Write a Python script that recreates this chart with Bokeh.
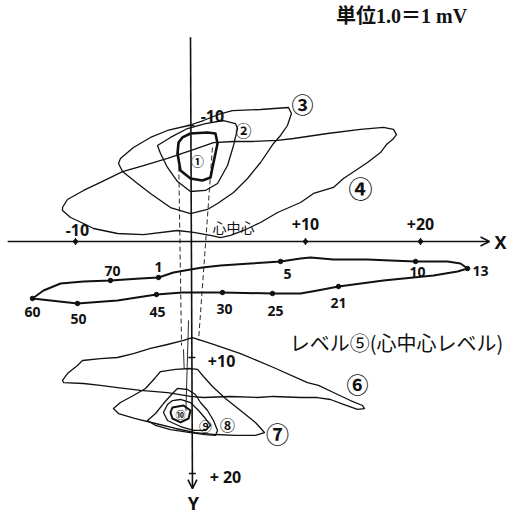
import numpy as np
from bokeh.plotting import figure
from bokeh.models import Range1d, Arrow, OpenHead, ColumnDataSource
from bokeh.core.properties import value
from bokeh.embed import file_html
from bokeh.resources import INLINE

# ---------------- data (units: 1.0 = 1 mV grid unit; Y grows downward) ----------------
# equipotential contours above the heart-centre level
c1_x = [-1.04, -0.70, 0.00, 1.48, 2.17, 2.35, 1.91, 1.74, 1.04, 0.00, -0.87, -1.13]
c1_y = [-8.53, -8.97, -9.31, -9.40, -9.31, -8.45, -6.38, -5.52, -5.26, -5.43, -6.12, -7.59]

c2_x = [-2.87, -1.74, -0.26, 1.30, 2.87, 3.91, 4.09, 3.74, 3.22, 2.35, 1.30, 0.00, -1.13, -2.00, -2.61]
c2_y = [-8.28, -8.97, -9.74, -10.17, -10.43, -10.17, -9.74, -8.28, -6.55, -5.00, -4.40, -4.31, -5.17, -6.38, -7.59]

c3_x = [-6.09, -4.96, -3.48, -2.00, -0.17, 1.13, 2.43, 3.65, 6.09, 8.52, 8.78, 8.43, 7.83, 7.22,
        6.09, 4.96, 3.74, 2.35, 1.48, 0.00, -1.74, -3.48, -4.61, -5.91, -6.26]
c3_y = [-7.16, -8.10, -8.97, -9.57, -10.00, -10.43, -10.95, -11.29, -11.38, -11.55, -11.03, -10.00, -9.14, -8.45,
        -6.81, -5.43, -4.22, -3.28, -2.76, -2.41, -2.93, -4.14, -5.00, -6.03, -6.72]

c4_x = [-11.13, -10.70, -9.30, -7.83, -5.91, -4.09, -2.00, 0.00, 2.00, 3.74, 5.22, 7.57, 8.96, 11.91,
        14.78, 16.78, 17.65, 17.91, 17.57, 17.04, 16.52, 15.39, 14.35, 13.30, 12.43, 10.70, 9.57, 7.57,
        6.09, 4.61, 3.48, 2.61, 1.74, 0.26, -1.13, -4.09, -6.35, -8.43, -9.30, -10.43, -11.13]
c4_y = [-2.93, -3.62, -4.40, -5.09, -6.03, -6.55, -7.16, -7.84, -8.53, -8.62, -8.62, -8.71, -8.88, -9.31,
        -9.66, -9.83, -9.66, -9.22, -8.79, -8.36, -7.67, -6.81, -6.12, -5.43, -4.66, -4.14, -3.36, -2.50,
        -1.64, -0.95, -0.52, -0.34, -0.52, -0.78, -0.95, -0.60, -0.69, -1.12, -1.55, -2.07, -2.67]

# equipotential contours below the heart-centre level
c6_x = [-11.13, -10.70, -9.83, -9.39, -7.83, -6.35, -4.96, -3.48, -2.00, -0.61, 0.17, 1.74, 4.35, 7.22,
        10.17, 11.13, 12.43, 13.91, 14.96, 15.13, 14.52, 13.30, 12.17, 11.04, 9.57, 7.22, 5.83, 3.48,
        1.13, 0.00, -2.00, -4.35, -6.35, -7.83, -9.30, -11.04]
c6_y = [11.98, 11.38, 10.69, 10.26, 10.09, 10.00, 9.66, 9.22, 8.88, 8.53, 8.28, 8.79, 9.66, 10.86,
        12.16, 12.41, 13.02, 13.71, 14.14, 14.40, 14.48, 14.05, 13.62, 13.45, 13.45, 13.36, 13.45, 13.36,
        13.45, 13.36, 13.02, 12.84, 12.59, 12.41, 12.24, 12.16]

c7_x = [-6.70, -6.09, -4.96, -3.91, -3.04, -2.61, -1.30, 0.00, 0.61, 1.13, 1.91, 3.04, 4.35, 5.65,
        6.43, 5.65, 3.91, 2.17, 0.43, -1.30, -3.04, -4.78, -6.26]
c7_y = [14.40, 13.88, 13.28, 12.67, 11.72, 11.21, 11.03, 10.95, 11.03, 11.64, 12.50, 13.53, 14.57, 15.60,
        16.47, 16.72, 16.72, 16.64, 16.47, 16.12, 15.69, 15.26, 14.83]

c8_x = [-3.74, -3.04, -2.35, -1.57, -1.13, -0.26, 0.43, 0.87, 1.48, 2.00, 2.35, 2.17, 1.30, 0.00, -1.74, -3.04]
c8_y = [15.43, 14.83, 13.97, 13.10, 12.67, 12.76, 13.19, 13.88, 14.57, 15.43, 16.29, 16.72, 16.64, 16.47, 16.21, 15.86]

c9_x = [-2.00, -2.35, -2.00, -0.87, 0.26, 1.30, 1.74, 1.30, 0.70, 0.00, -0.87, -1.57]
c9_y = [14.05, 14.74, 15.43, 15.95, 16.29, 16.29, 15.86, 15.26, 14.57, 13.88, 13.62, 13.71]

c10_x = [-1.57, -0.61, 0.00, -0.17, -0.87, -1.57, -1.74]
c10_y = [14.31, 14.14, 14.57, 15.26, 15.60, 15.26, 14.74]

# heart-centre level loop (level 5), traced 1 -> 13 -> 60 -> 70 -> 1
loop_x = [-2.78, -1.48, 0.00, 1.04, 2.61, 5.22, 7.83, 9.57, 10.43, 12.43, 15.39, 17.39, 19.57, 22.35,
          23.48, 24.09, 23.22, 21.13, 16.78, 12.87, 11.04, 9.57, 7.13, 2.78, 0.87, -0.70, -2.96,
          -6.35, -9.83, -12.17, -13.74, -12.78, -11.30, -9.30, -6.96, -4.35, -2.78]
loop_y = [3.10, 2.67, 2.41, 2.24, 2.07, 1.90, 1.72, 1.47, 1.38, 1.55, 1.55, 1.64, 1.72, 1.72,
          1.90, 2.33, 2.59, 2.93, 3.36, 3.88, 4.22, 4.48, 4.48, 4.40, 4.40, 4.40, 4.57,
          5.09, 5.34, 5.09, 4.91, 4.22, 3.62, 3.45, 3.36, 3.19, 3.10]
# time marks on the loop
mark_t = ["1", "5", "10", "13", "21", "25", "30", "45", "50", "60", "70"]
mark_x = [-2.78, 7.83, 19.57, 24.09, 12.87, 7.13, 2.78, -2.96, -9.83, -13.74, -6.96]
mark_y = [3.10, 1.72, 1.72, 2.33, 3.88, 4.48, 4.40, 4.57, 5.34, 4.91, 3.36]
mark_lx = [-2.78, 8.43, 19.74, 25.22, 12.87, 7.39, 2.96, -2.87, -9.74, -13.74, -6.78]
mark_ly = [2.16, 2.76, 2.67, 2.50, 5.34, 5.95, 5.78, 6.12, 6.64, 6.12, 2.50]

# contour level labels
lvl_text = ["①", "②", "③", "④", "⑥", "⑦", "⑧", "⑨", "⑩"]
lvl_x = [0.61, 4.61, 9.74, 14.78, 14.52, 7.57, 3.22, 1.30, -0.87]
lvl_y = [-6.98, -9.57, -11.98, -4.66, 12.24, 16.47, 15.78, 15.86, 14.91]
lvl_size = ["13px", "16px", "22px", "24px", "22px", "23px", "15px", "13px", "10px"]

# axis tick values
x_ticks = [-10, 10, 20]
y_ticks = [-10, 10, 20]

# ---------------- figure ----------------
SX, SY = 11.5, 11.6          # pixels per unit
OX, OY = 190, 241            # pixel position of the origin
W, H = 512, 518

p = figure(width=W, height=H, output_backend="svg", toolbar_location=None,
           x_range=Range1d(-OX / SX, (W - OX) / SX),
           y_range=Range1d((H - OY) / SY, -OY / SY),
           min_border=0, background_fill_color="white", border_fill_color="white")
p.axis.visible = False
p.grid.visible = False
p.outline_line_color = None

INK = "#111111"
HAND = value("Noto Sans")
CJK = value("Noto Sans CJK JP")

# axes with open arrow heads
p.add_layout(Arrow(end=OpenHead(size=9, line_width=1.6, line_color=INK),
                   x_start=-15.9, y_start=0, x_end=26.0, y_end=0,
                   line_width=1.6, line_color=INK))
p.add_layout(Arrow(end=OpenHead(size=9, line_width=1.6, line_color=INK),
                   x_start=0.0, y_start=-17.6, x_end=0.17, y_end=21.3,
                   line_width=1.6, line_color=INK))

# ticks
p.scatter(x_ticks, [0] * len(x_ticks), size=4, color=INK)
p.segment(x0=x_ticks, y0=[-0.3] * 3, x1=x_ticks, y1=[0.3] * 3, line_color=INK, line_width=1.2)
ytx = [0.0 + 0.17 * (t + 17.6) / 38.9 for t in y_ticks]
p.segment(x0=[v - 0.3 for v in ytx], y0=y_ticks, x1=[v + 0.3 for v in ytx], y1=y_ticks,
          line_color=INK, line_width=1.3)

# projection lines from the heart-centre level
p.line([-1.04, -0.78], [-7.84, 8.97], line_color=INK, line_width=0.9, line_dash="5 3")
p.line([1.91, 0.70], [-8.10, 8.53], line_color=INK, line_width=0.9, line_dash="5 3")
p.line([-0.61, -0.55], [9.3, 11.0], line_color=INK, line_width=0.9)
p.line([-0.17, -0.40], [6.8, 14.6], line_color=INK, line_width=0.9)

# contours
cont_xs = [c2_x, c3_x, c4_x, c6_x, c7_x, c8_x, c9_x]
cont_ys = [c2_y, c3_y, c4_y, c6_y, c7_y, c8_y, c9_y]
p.patches(cont_xs, cont_ys, fill_color=None, line_color=INK, line_width=1.3, line_join="round")
p.patch(c1_x, c1_y, fill_color=None, line_color=INK, line_width=2.6, line_join="round")
p.patch(c10_x, c10_y, fill_color=None, line_color=INK, line_width=2.0, line_join="round")

# level-5 loop with time marks
p.line(loop_x, loop_y, line_color=INK, line_width=2.0, line_join="round")
p.scatter(mark_x, mark_y, size=4.5, color=INK)
p.text(mark_lx, mark_ly, text=mark_t, text_font=HAND, text_font_style="bold",
       text_font_size="14px", text_align="center", text_baseline="middle", text_color=INK)

# contour numbers
p.text(lvl_x, lvl_y, text=lvl_text, text_font=CJK, text_font_style="bold", text_font_size=lvl_size,
       text_align="center", text_baseline="middle", text_color=INK)

# axis labels and tick labels
p.text([-9.83, 10.0, 20.0, 1.91, 2.70, 3.04],
       [-1.03, -1.47, -1.47, -10.78, 10.26, 20.34],
       text=["-10", "+10", "+20", "-10", "+10", "+ 20"],
       text_font=HAND, text_font_style="bold", text_font_size="16px",
       text_align="center", text_baseline="middle", text_color=INK)
p.text([26.96, 0.26], [0.0, 22.55], text=["X", "Y"], text_font=HAND, text_font_style="bold",
       text_font_size="18px", text_align="center", text_baseline="middle", text_color=INK)
p.text([3.74], [-1.29], text=["心中心"], text_font=CJK, text_font_size="14px",
       text_align="center", text_baseline="middle", text_color=INK)
p.text([17.91], [8.71], text=["レベル⑤(心中心レベル)"], text_font=CJK, text_font_size="20px",
       text_align="center", text_baseline="middle", text_color=INK)
p.text([18.35], [-19.48], text=["単位1.0＝1 mV"],
       text_font=value("Liberation Serif, Noto Sans CJK JP"), text_font_style="bold",
       text_font_size="20px", text_align="center", text_baseline="middle", text_color=INK)

open("out.html", "w").write(file_html(p, INLINE))
